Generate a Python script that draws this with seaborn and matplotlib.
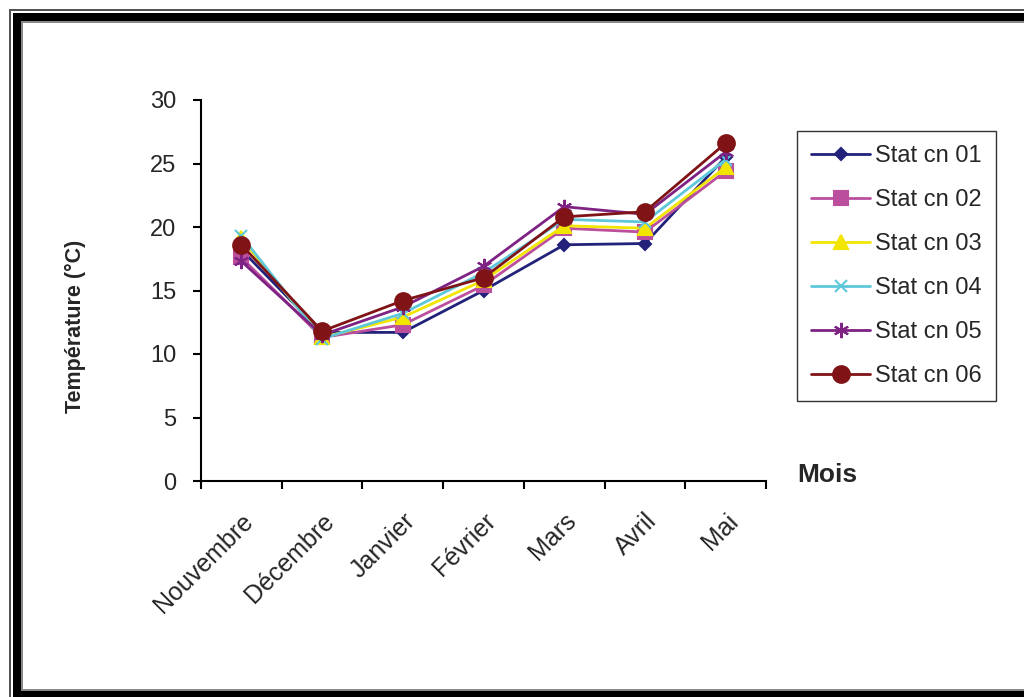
import matplotlib
matplotlib.use("Agg")
import matplotlib.pyplot as plt
import matplotlib.transforms as mtransforms
from matplotlib.lines import Line2D
from matplotlib.patches import Rectangle
from matplotlib.ticker import FixedLocator, NullFormatter
import pandas as pd
import seaborn as sns

months = ["Nouvembre", "Décembre", "Janvier", "Février", "Mars", "Avril", "Mai"]
stations = ["Stat cn 01", "Stat cn 02", "Stat cn 03", "Stat cn 04", "Stat cn 05", "Stat cn 06"]

stat_01 = [18.2, 11.7, 11.7, 15.0, 18.6, 18.7, 25.5]
stat_02 = [17.6, 11.3, 12.3, 15.4, 19.9, 19.6, 24.4]
stat_03 = [19.1, 11.3, 12.9, 15.8, 20.1, 19.9, 24.7]
stat_04 = [19.3, 11.2, 13.2, 16.4, 20.6, 20.4, 25.3]
stat_05 = [17.3, 11.5, 13.7, 16.9, 21.6, 21.0, 25.9]
stat_06 = [18.6, 11.8, 14.2, 16.0, 20.8, 21.2, 26.6]

series = [stat_01, stat_02, stat_03, stat_04, stat_05, stat_06]

df = pd.DataFrame(
    [(m, s, v) for s, vals in zip(stations, series) for m, v in zip(months, vals)],
    columns=["Mois", "Station", "Temp"],
)
df["pos"] = df["Mois"].map({m: i for i, m in enumerate(months)})

sns.set_theme(style="white")
plt.rcParams["font.family"] = ["Liberation Sans", "DejaVu Sans"]

palette = {
    "Stat cn 01": "#22227a",
    "Stat cn 02": "#bb4f9e",
    "Stat cn 03": "#f2e600",
    "Stat cn 04": "#5ec8da",
    "Stat cn 05": "#7e2283",
    "Stat cn 06": "#7f1315",
}
markers = {
    "Stat cn 01": "D",
    "Stat cn 02": "s",
    "Stat cn 03": "^",
    "Stat cn 04": "x",
    "Stat cn 05": (6, 2, 0),
    "Stat cn 06": "o",
}
msize = {
    "Stat cn 01": 6.5,
    "Stat cn 02": 10,
    "Stat cn 03": 10,
    "Stat cn 04": 8,
    "Stat cn 05": 11,
    "Stat cn 06": 12,
}

W, H = 1024, 697
fig = plt.figure(figsize=(W / 100, H / 100), dpi=100)
fig.patch.set_facecolor("white")
ax = fig.add_axes([201 / W, 1 - 481 / H, (766 - 201) / W, (481 - 100) / H])

for st in stations:
    sub = df[df["Station"] == st]
    sns.lineplot(
        data=sub, x="pos", y="Temp", ax=ax, color=palette[st],
        marker=markers[st], markersize=msize[st], markeredgewidth=1.5,
        markeredgecolor=palette[st], linewidth=2, label=st, legend=False,
    )

ax.set_xlim(-0.5, len(months) - 0.5)
ax.set_ylim(0, 30)
ax.set_yticks([0, 5, 10, 15, 20, 25, 30])
ax.set_xticks(range(len(months)))
ax.set_xticklabels(months, rotation=45, ha="right", va="top",
                   rotation_mode="anchor", fontsize=18)
shift = mtransforms.ScaledTranslation(3 / 100, 0, fig.dpi_scale_trans)
for lbl in ax.get_xticklabels():
    lbl.set_transform(lbl.get_transform() + shift)
ax.xaxis.set_minor_locator(FixedLocator([i - 0.5 for i in range(len(months) + 1)]))
ax.xaxis.set_minor_formatter(NullFormatter())
ax.tick_params(axis="x", which="major", length=0, pad=20)
ax.tick_params(axis="x", which="minor", length=6, width=1.5, color="black", direction="out", bottom=True)
ax.tick_params(axis="y", length=6, width=1.5, color="black", direction="out", left=True, labelsize=17, pad=12)
for side in ("top", "right"):
    ax.spines[side].set_visible(False)
for side in ("left", "bottom"):
    ax.spines[side].set_color("black")
    ax.spines[side].set_linewidth(1.5)
ax.set_xlabel("")
ax.set_ylabel("Température (°C)", fontsize=15.5, fontweight="bold", va="center")
ax.yaxis.set_label_coords((75 - 201) / 565, (481 - 326) / 381)

fig.text(797 / W, 1 - 475 / H, "Mois", fontsize=19, fontweight="bold", va="center", ha="left")

handles = [
    Line2D([], [], color=palette[st], marker=markers[st], markersize=msize[st],
           markeredgewidth=1.5, markeredgecolor=palette[st], linewidth=2)
    for st in stations
]
leg = fig.legend(
    handles, stations, loc="upper left",
    bbox_to_anchor=(797 / W, 1 - 131 / H), bbox_transform=fig.transFigure,
    frameon=True, fancybox=False, fontsize=17, labelspacing=0.93,
    handlelength=2.5, handletextpad=0.2, borderpad=0.6, borderaxespad=0,
)
leg.get_frame().set_edgecolor("black")
leg.get_frame().set_linewidth(1.0)

# Decorative double frame around the chart area
def px_rect(x0, y0, x1, y1, color):
    fig.add_artist(Rectangle((x0 / W, 1 - y1 / H), (x1 - x0) / W, (y1 - y0) / H,
                             transform=fig.transFigure, facecolor=color,
                             edgecolor="none", zorder=10))

# thin outer grey lines
px_rect(9, 9, W, 11, "#555555")
px_rect(9, 9, 11, H, "#555555")
# thick black band
px_rect(13, 13, W, 21, "black")
px_rect(13, 13, 21, H, "black")
px_rect(13, 691, W, H, "black")
# inner grey hairlines
px_rect(21, 21, W, 23, "#888888")
px_rect(21, 21, 23, 691, "#888888")
px_rect(21, 689, W, 691, "#888888")

fig.savefig("out.png", dpi=100, facecolor="white")
